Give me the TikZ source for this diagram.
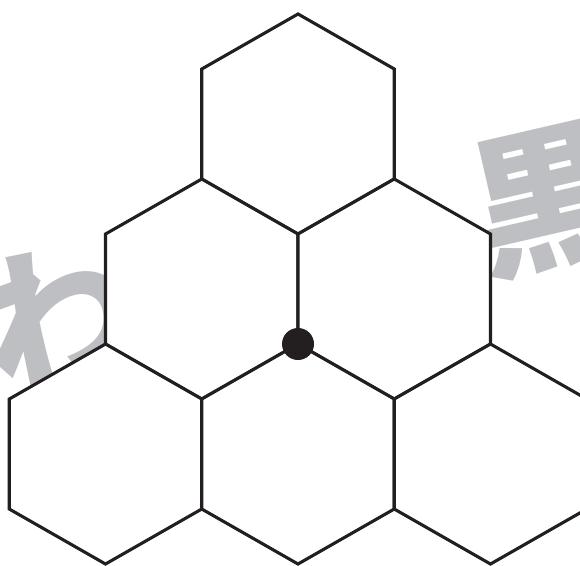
\documentclass[tikz,border=0pt]{standalone}
\usepackage{fontspec}
\newfontfamily\jpfont{Noto Sans CJK JP}
\definecolor{markgray}{RGB}{190,191,194}
\definecolor{inkblack}{RGB}{35,31,32}

\begin{document}
\begin{tikzpicture}[x=1pt,y=-1pt,
        cellline/.style={draw=inkblack,fill=white,line width=3.1pt,line join=miter},
        stamp/.style={text=markgray,inner sep=0pt,rotate=13,font=\jpfont\bfseries\fontsize{155}{155}\selectfont}]
        \clip (0,0) rectangle (580,565);
        % watermark behind the cells
        \node[stamp] (wa) at (58,316) {わ};
        \node[stamp] (kuro) at (546,200) {黒};
        % cells, top row first
        \foreach \cx/\cy in {298/124, 201.75/289, 394.25/289, 105.5/454, 298/454, 490.5/454}
            \draw[cellline] (\cx,\cy) ++(0,-110) -- ++(96.25,55) -- ++(0,110) -- ++(-96.25,55) -- ++(-96.25,-55) -- ++(0,-110) -- cycle;
        \node[circle,fill=inkblack,minimum size=32pt,inner sep=0pt] (hub) at (298,344) {};
    \end{tikzpicture}
\end{document}
